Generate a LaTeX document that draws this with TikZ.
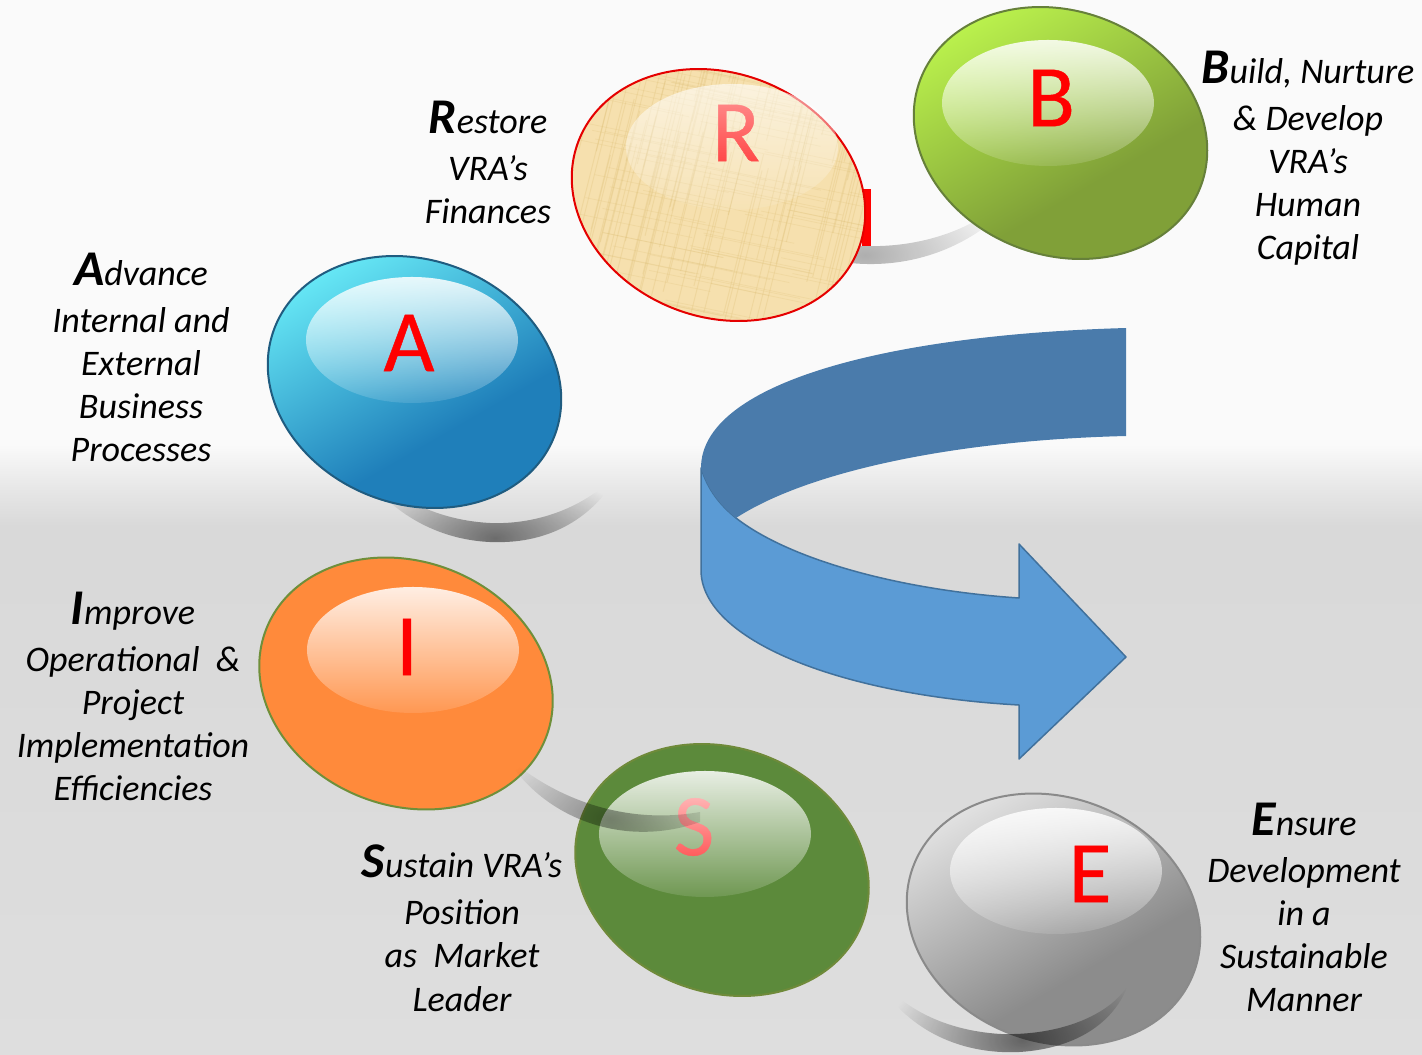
\documentclass[tikz,border=0pt]{standalone}
\usepackage{fontspec}
\setmainfont{Carlito}
\newfontfamily\letterfont{Carlito}[FakeBold=0.5]
\usetikzlibrary{fadings,shadings,calc}
\definecolor{arrowdark}{HTML}{4A7BAB}
\definecolor{arrowlight}{HTML}{5B9BD5}
\definecolor{arrowedge}{HTML}{41719C}
\definecolor{papyrus}{HTML}{F6E0AE}
\definecolor{papyrusline}{HTML}{DDBE74}
\definecolor{bbase}{HTML}{80A038}\definecolor{bglow}{HTML}{C4FF50}\definecolor{bedge}{HTML}{66803A}
\definecolor{abase}{HTML}{1F7FBA}\definecolor{aglow}{HTML}{72F9FF}\definecolor{aedge}{HTML}{1F5C80}
\definecolor{ibase}{HTML}{FF8A3B}\definecolor{iedge}{HTML}{6F8F3A}
\definecolor{sbase}{HTML}{5C8A3B}\definecolor{sedge}{HTML}{6F8A3A}
\definecolor{ebase}{HTML}{8C8C8C}\definecolor{eglow}{HTML}{F0F0F0}\definecolor{eedge}{HTML}{8A8A8A}
\tikzfading[name=glassf, top color=transparent!14, bottom color=transparent!88]
\tikzfading[name=crescentf, inner color=transparent!0, outer color=transparent!100]
\tikzset{
  x=1pt, y=-1pt,
  caption/.style={font=\fontsize{36}{43.2}\selectfont\itshape, align=center, inner sep=0pt, anchor=north, text=black},
  letter/.style={font=\fontsize{88}{88}\selectfont\letterfont, text=red, inner sep=0pt},
  crescent/.style n args={4}{fill=black, path fading=crescentf, fit fading=false, fading transform={shift={(#1,#2)},xscale=#3,yscale=#4}},
  glass/.style={fill=white, path fading=glassf},
}
\newcommand{\initial}[1]{{\fontsize{50}{43.2}\selectfont\bfseries #1}}
% #1 cx #2 cy #3 base #4 glow #5 edge
\newcommand{\glassball}[5]{%
  \fill[#3, rotate around={-21:(#1,#2)}] (#1,#2) ellipse [x radius=150pt, y radius=122pt];
  \begin{scope}
    \clip[rotate around={-21:(#1,#2)}] (#1,#2) ellipse [x radius=150pt, y radius=122pt];
    \shade[top color=#4, bottom color=#3, transform canvas={rotate around={30:(#1,#2)}}] ($(#1,#2)+(-300,-175)$) rectangle ($(#1,#2)+(300,60)$);
  \end{scope}
  \draw[#5, line width=2pt, rotate around={-21:(#1,#2)}] (#1,#2) ellipse [x radius=150pt, y radius=122pt];
}
\newcommand{\ballrim}[3]{%
  \draw[#3, line width=2pt, rotate around={-21:(#1,#2)}] (#1,#2) ellipse [x radius=150pt, y radius=122pt];
}
\newcommand{\glasstop}[3][1]{\fill[glass, fill opacity=#1] (#2,#3) ellipse [x radius=106pt, y radius=63pt];}
\begin{document}
\begin{tikzpicture}
\useasboundingbox (0,0) rectangle (1422,1055);
% background
\fill[white!98!black] (0,0) rectangle (1422,446);
\shade[top color=white!98!black, bottom color=white!85!black, middle color=white!91!black] (0,445) rectangle (1422,526);
\shade[top color=white!85!black, bottom color=white!87!black] (0,525) rectangle (1422,1055);
% shadows behind the balls
\fill[crescent={495}{538}{5.5}{2.8}, fill opacity=.5] (345,440) .. controls (375,510) and (440,545) .. (505,542) .. controls (560,540) and (600,510) .. (620,470) .. controls (590,505) and (540,525) .. (490,523) .. controls (430,520) and (375,490) .. (345,440) -- cycle;
\fill[crescent={865}{255}{6}{3}, fill opacity=.3] (850,245) .. controls (900,250) and (950,238) .. (985,215) -- (992,222) .. controls (950,255) and (900,268) .. (850,263) -- cycle;
% hidden letter behind R
\fill[red] (862,189) rectangle (871,246);
% R
\fill[papyrus, rotate around={-21:(718.5,195)}] (718.5,195) ellipse [x radius=150pt, y radius=122pt];
\begin{scope}
  \clip[rotate around={-21:(718.5,195)}] (718.5,195) ellipse [x radius=150pt, y radius=122pt];
  \pgfmathsetseed{7}
  \foreach \i in {1,...,110}{
    \pgfmathsetmacro{\u}{560+320*rnd}
    \pgfmathsetmacro{\v}{50+290*rnd}
    \draw[papyrusline, opacity=.28, line width=1pt] (\u,\v) -- ++(40,-160);
    \pgfmathsetmacro{\u}{560+320*rnd}
    \pgfmathsetmacro{\v}{50+290*rnd}
    \draw[papyrusline, opacity=.22, line width=.8pt] (\u,\v) -- ++(120,25);
  }
\end{scope}
\ballrim{718.5}{195}{red!90!black}
\node[letter] (r) at (736,133) {R};
\glasstop[.7]{732}{147}
% B
\glassball{1060.5}{133}{bbase}{bglow}{bedge}
\glasstop{1048}{103}
\node[letter] (b) at (1051,98) {B};
% A
\glassball{414.5}{382}{abase}{aglow}{aedge}
\glasstop{412}{340}
\node[letter] (a) at (409,343) {A};
% I
\glassball{406}{683.5}{ibase}{ibase}{iedge}
\glasstop{413}{650}
\node[letter] (i) at (407,647) {I};
% S
\glassball{722}{870}{sbase}{sbase}{sedge}
\node[letter] (s) at (694,827) {S};
\glasstop{705}{834}
\fill[crescent={610}{818}{5}{3}, fill opacity=.38] (505,755) .. controls (540,815) and (620,850) .. (700,822) -- (700,812) .. controls (620,826) and (550,795) .. (505,755) -- cycle;
% E
\glassball{1053.5}{919.5}{ebase}{eglow}{eedge}
\glasstop{1056}{871}
\node[letter] (e) at (1090,874) {E};
\fill[crescent={1022}{1040}{5.5}{3.2}, fill opacity=.55] (867,963) .. controls (900,1030) and (960,1055) .. (1020,1052) .. controls (1080,1048) and (1115,1020) .. (1128,985) .. controls (1110,1015) and (1060,1036) .. (1000,1034) .. controls (940,1030) and (895,1005) .. (867,963) -- cycle;
% curved arrow
\fill[arrowlight] (701,468) .. controls (708,490) and (720,505) .. (736,518)
  .. controls (790,560) and (900,590) .. (1019,598) -- (1019,544) -- (1126,657) -- (1019,759) -- (1019,705)
  .. controls (840,695) and (701,640) .. (701,570) -- cycle;
\draw[arrowedge, line width=1.5pt, line join=round] (736,518)
  .. controls (790,560) and (900,590) .. (1019,598) -- (1019,544) -- (1126,657) -- (1019,759) -- (1019,705)
  .. controls (840,695) and (701,640) .. (701,570) -- (701,468) .. controls (708,490) and (720,505) .. (736,518);
\fill[arrowdark] (1126,328) .. controls (880,335) and (701,385) .. (701,468) .. controls (708,490) and (720,505) .. (736,518) .. controls (810,470) and (960,440) .. (1126,436) -- cycle;
% captions
\node[caption] (ta) at (141,253) {\initial{A}dvance\\[3.5pt]Internal and\\External\\Business\\Processes};
\node[caption] (tr) at (488,101) {\initial{R}estore\\[3.5pt]VRA’s\\Finances};
\node[caption] (tb) at (1308,51) {\initial{B}uild, Nurture\\[3.5pt]\&~Develop\\VRA’s\\Human\\Capital};
\node[caption] (ti) at (133,592) {\initial{I}mprove\\[3.5pt]Operational~~\&\\Project\\Implementation\\Efficiencies};
\node[caption] (ts) at (462,845) {\initial{S}ustain VRA’s\\[3.5pt]Position\\as~~Market\\Leader};
\node[caption] (te) at (1304,803) {\initial{E}nsure\\[3.5pt]Development\\in a\\Sustainable\\Manner};
\end{tikzpicture}
\end{document}
